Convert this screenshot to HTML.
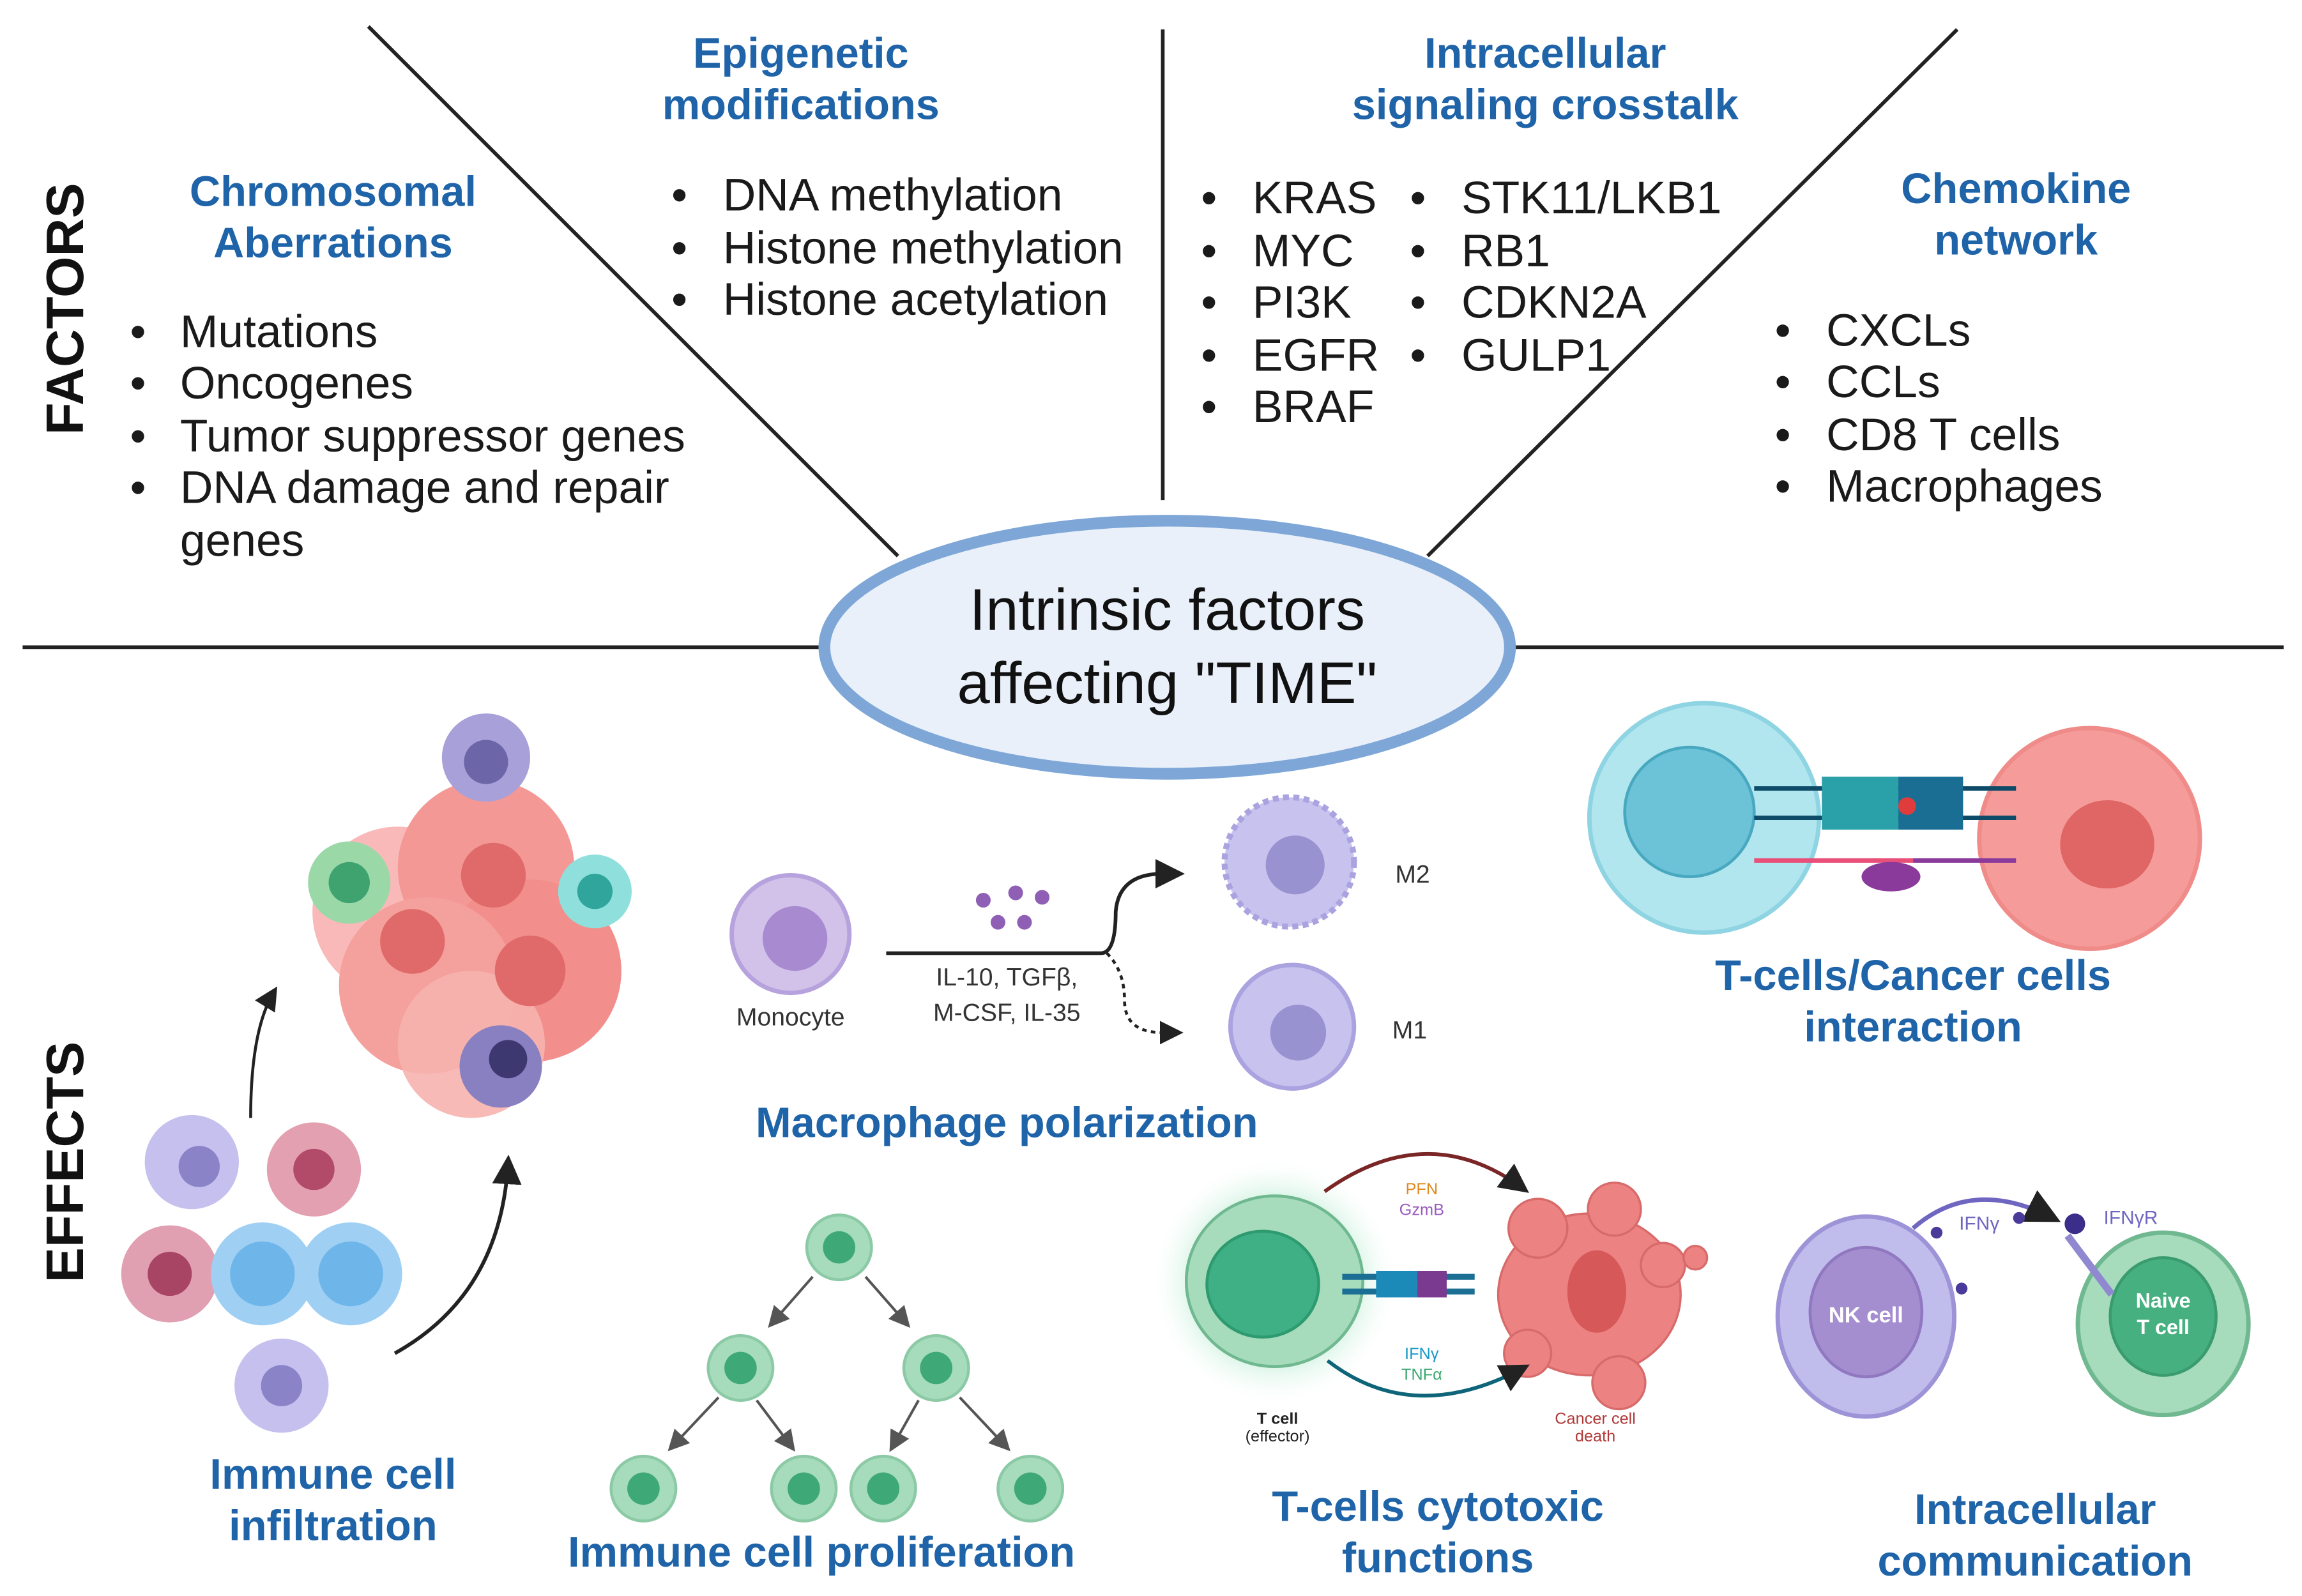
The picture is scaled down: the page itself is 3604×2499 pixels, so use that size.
<!DOCTYPE html>
<html><head><meta charset="utf-8"><style>
html,body{margin:0;padding:0;background:#fff}
svg{display:block}
text{font-family:"Liberation Sans",sans-serif}
.h{fill:#1f64a8;font-weight:bold;font-size:29px;text-anchor:middle}
.b{fill:#1a1a1a;font-size:31px}
.s{font-size:17px;fill:#333}
</style></head><body>
<svg width="3604" height="2499" viewBox="0 0 1564 1085" xmlns="http://www.w3.org/2000/svg">
<defs>
<marker id="ah" markerWidth="8" markerHeight="8" refX="6" refY="4" orient="auto"><path d="M0,0 L8,4 L0,8z" fill="#222"/></marker>
<marker id="ag" markerWidth="8" markerHeight="8" refX="6" refY="4" orient="auto"><path d="M0,0 L8,4 L0,8z" fill="#555"/></marker>
<radialGradient id="glow"><stop offset="0.55" stop-color="#b9ecd2"/><stop offset="1" stop-color="#fff" stop-opacity="0"/></radialGradient>
</defs>
<g stroke="#222" stroke-width="2.5">
<line x1="250" y1="18" x2="610" y2="378"/>
<line x1="790" y1="20" x2="790" y2="340"/>
<line x1="1330" y1="20" x2="970" y2="378"/>
<line x1="15" y1="440" x2="558" y2="440"/>
<line x1="1025" y1="440" x2="1552" y2="440"/>
</g>
<ellipse cx="793" cy="440" rx="233" ry="86" fill="#e9f0fa" stroke="#7ea7d8" stroke-width="8"/>
<text x="793" y="428" font-size="40" text-anchor="middle" fill="#111">Intrinsic factors</text>
<text x="793" y="478" font-size="40" text-anchor="middle" fill="#111">affecting "TIME"</text>

<text transform="translate(56,210) rotate(-90)" font-size="36" font-weight="bold" text-anchor="middle" fill="#111">FACTORS</text>
<text transform="translate(56,790) rotate(-90)" font-size="36" font-weight="bold" text-anchor="middle" fill="#111">EFFECTS</text>

<text class="h" x="226" y="140">Chromosomal</text>
<text class="h" x="226" y="175">Aberrations</text>
<g class="b">
<text x="88" y="236">•</text><text x="122" y="236">Mutations</text>
<text x="88" y="271">•</text><text x="122" y="271">Oncogenes</text>
<text x="88" y="307">•</text><text x="122" y="307">Tumor suppressor genes</text>
<text x="88" y="342">•</text><text x="122" y="342">DNA damage and repair</text>
<text x="122" y="378">genes</text>
</g>
<text class="h" x="544" y="46">Epigenetic</text>
<text class="h" x="544" y="81">modifications</text>
<g class="b">
<text x="456" y="143">•</text><text x="491" y="143">DNA methylation</text>
<text x="456" y="179">•</text><text x="491" y="179">Histone methylation</text>
<text x="456" y="214">•</text><text x="491" y="214">Histone acetylation</text>
</g>
<text class="h" x="1050" y="46">Intracellular</text>
<text class="h" x="1050" y="81">signaling crosstalk</text>
<g class="b">
<text x="816" y="145">•</text><text x="851" y="145">KRAS</text>
<text x="816" y="181">•</text><text x="851" y="181">MYC</text>
<text x="816" y="216">•</text><text x="851" y="216">PI3K</text>
<text x="816" y="252">•</text><text x="851" y="252">EGFR</text>
<text x="816" y="287">•</text><text x="851" y="287">BRAF</text>
<text x="958" y="145">•</text><text x="993" y="145">STK11/LKB1</text>
<text x="958" y="181">•</text><text x="993" y="181">RB1</text>
<text x="958" y="216">•</text><text x="993" y="216">CDKN2A</text>
<text x="958" y="252">•</text><text x="993" y="252">GULP1</text>
</g>
<text class="h" x="1370" y="138">Chemokine</text>
<text class="h" x="1370" y="173">network</text>
<g class="b">
<text x="1206" y="235">•</text><text x="1241" y="235">CXCLs</text>
<text x="1206" y="270">•</text><text x="1241" y="270">CCLs</text>
<text x="1206" y="306">•</text><text x="1241" y="306">CD8 T cells</text>
<text x="1206" y="341">•</text><text x="1241" y="341">Macrophages</text>
</g>

<g>
<circle cx="270" cy="620" r="58" fill="#f7a8a6" opacity="0.8"/>
<circle cx="330" cy="590" r="60" fill="#f39895"/>
<circle cx="360" cy="660" r="62" fill="#f28e8b"/>
<circle cx="290" cy="670" r="60" fill="#f4a09d"/>
<circle cx="320" cy="710" r="50" fill="#f7b2af" opacity="0.9"/>
<circle cx="335" cy="595" r="22" fill="#e06a6a"/>
<circle cx="360" cy="660" r="24" fill="#e06a6a"/>
<circle cx="280" cy="640" r="22" fill="#e06a6a"/>
<circle cx="330" cy="515" r="30" fill="#a8a0d8"/><circle cx="330" cy="518" r="15" fill="#6c65a8"/>
<circle cx="340" cy="725" r="28" fill="#8880c0"/><circle cx="345" cy="720" r="13" fill="#3e3870"/>
<circle cx="237" cy="600" r="28" fill="#9ad8a8"/><circle cx="237" cy="600" r="14" fill="#3fa370"/>
<circle cx="404" cy="606" r="25" fill="#8fe0dc"/><circle cx="404" cy="606" r="12" fill="#2fa59c"/>
<circle cx="130" cy="790" r="32" fill="#c5c0ee"/><circle cx="135" cy="793" r="14" fill="#8a83c8"/>
<circle cx="213" cy="795" r="32" fill="#e2a0b0"/><circle cx="213" cy="795" r="14" fill="#b24a6a"/>
<circle cx="115" cy="866" r="33" fill="#e0a0b2"/><circle cx="115" cy="866" r="15" fill="#a84565"/>
<circle cx="178" cy="866" r="35" fill="#9fd0f4"/><circle cx="178" cy="866" r="22" fill="#6eb5ea"/>
<circle cx="238" cy="866" r="35" fill="#9fd0f4"/><circle cx="238" cy="866" r="22" fill="#6eb5ea"/>
<circle cx="191" cy="942" r="32" fill="#c5c0ee"/><circle cx="191" cy="942" r="14" fill="#8a83c8"/>
<path d="M170,760 Q170,700 186,674" stroke="#222" stroke-width="2" fill="none" marker-end="url(#ah)"/>
<path d="M268,920 Q340,880 345,790" stroke="#222" stroke-width="2.5" fill="none" marker-end="url(#ah)"/>
</g>
<text class="h" x="226" y="1012">Immune cell</text>
<text class="h" x="226" y="1047">infiltration</text>

<circle cx="537" cy="635" r="40" fill="#d2c2ea" stroke="#b6a2dc" stroke-width="3"/>
<circle cx="540" cy="638" r="22" fill="#a88ad0"/>
<text class="s" x="537" y="697" text-anchor="middle">Monocyte</text>
<path d="M602,648 L748,648 Q758,648 758,620 Q760,594 790,594 L800,594" stroke="#222" stroke-width="2.5" fill="none" marker-end="url(#ah)"/>
<path d="M752,648 Q764,660 764,680 Q764,702 790,702 L800,702" stroke="#222" stroke-width="2" stroke-dasharray="3,3" fill="none" marker-end="url(#ah)"/>
<g fill="#8f5fb5"><circle cx="668" cy="612" r="5"/><circle cx="690" cy="607" r="5"/><circle cx="708" cy="610" r="5"/><circle cx="678" cy="627" r="5"/><circle cx="696" cy="627" r="5"/></g>
<text class="s" x="684" y="670" text-anchor="middle">IL-10, TGFβ,</text>
<text class="s" x="684" y="694" text-anchor="middle">M-CSF, IL-35</text>
<circle cx="876" cy="586" r="44" fill="#c7c2ee" stroke="#aaa3e0" stroke-width="4" stroke-dasharray="4,3"/>
<circle cx="880" cy="588" r="20" fill="#9992d0"/>
<text class="s" x="948" y="600">M2</text>
<circle cx="878" cy="698" r="42" fill="#c7c2ee" stroke="#aaa3e0" stroke-width="3"/>
<circle cx="882" cy="702" r="19" fill="#9992d0"/>
<text class="s" x="946" y="706">M1</text>
<text class="h" x="684" y="773">Macrophage polarization</text>

<circle cx="1158" cy="556" r="78" fill="#b2e6ee" stroke="#8fd4e2" stroke-width="3"/>
<circle cx="1148" cy="552" r="44" fill="#6cc2d6" stroke="#48a8c0" stroke-width="2"/>
<circle cx="1420" cy="570" r="75" fill="#f59c9a" stroke="#ef8b88" stroke-width="3"/>
<ellipse cx="1432" cy="574" rx="32" ry="30" fill="#e06565"/>
<line x1="1192" y1="536" x2="1370" y2="536" stroke="#0e4b68" stroke-width="3"/>
<line x1="1192" y1="556" x2="1370" y2="556" stroke="#0e4b68" stroke-width="3"/>
<rect x="1238" y="528" width="52" height="36" fill="#2aa0a8"/>
<rect x="1290" y="528" width="44" height="36" fill="#1a6e94"/>
<circle cx="1296" cy="548" r="6" fill="#e03c3c"/>
<line x1="1192" y1="585" x2="1300" y2="585" stroke="#e8507a" stroke-width="3"/>
<line x1="1300" y1="585" x2="1370" y2="585" stroke="#8a3a9a" stroke-width="3"/>
<ellipse cx="1285" cy="596" rx="20" ry="10" fill="#8a3a9a"/>
<text class="h" x="1300" y="673">T-cells/Cancer cells</text>
<text class="h" x="1300" y="708">interaction</text>

<g fill="#a6dcbc" stroke="#8ccaa6" stroke-width="2">
<circle cx="570" cy="848" r="22"/><circle cx="503" cy="930" r="22"/><circle cx="636" cy="930" r="22"/>
<circle cx="437" cy="1012" r="22"/><circle cx="546" cy="1012" r="22"/><circle cx="600" cy="1012" r="22"/><circle cx="700" cy="1012" r="22"/>
</g>
<g fill="#3fa877">
<circle cx="570" cy="848" r="11"/><circle cx="503" cy="930" r="11"/><circle cx="636" cy="930" r="11"/>
<circle cx="437" cy="1012" r="11"/><circle cx="546" cy="1012" r="11"/><circle cx="600" cy="1012" r="11"/><circle cx="700" cy="1012" r="11"/>
</g>
<g stroke="#555" stroke-width="1.8" marker-end="url(#ag)">
<line x1="552" y1="868" x2="524" y2="900"/><line x1="588" y1="868" x2="616" y2="900"/>
<line x1="488" y1="950" x2="456" y2="984"/><line x1="514" y1="952" x2="538" y2="984"/>
<line x1="624" y1="952" x2="606" y2="984"/><line x1="652" y1="950" x2="684" y2="984"/>
</g>
<text class="h" x="558" y="1065">Immune cell proliferation</text>

<circle cx="866" cy="871" r="85" fill="url(#glow)"/>
<ellipse cx="866" cy="871" rx="60" ry="58" fill="#a6dcbc" stroke="#6fb890" stroke-width="2"/>
<ellipse cx="858" cy="873" rx="38" ry="36" fill="#3fb085" stroke="#2e9a70" stroke-width="2"/>
<rect x="912" y="866" width="90" height="4" fill="#1b6e94"/><rect x="912" y="876" width="90" height="4" fill="#1b6e94"/>
<rect x="935" y="864" width="28" height="18" fill="#1b8ab8"/><rect x="963" y="864" width="20" height="18" fill="#7a3a90"/>
<g fill="#ec8282" stroke="#d86a6a" stroke-width="1.5">
<ellipse cx="1080" cy="880" rx="62" ry="55"/><circle cx="1045" cy="835" r="20"/><circle cx="1097" cy="822" r="18"/>
<circle cx="1130" cy="860" r="15"/><circle cx="1038" cy="920" r="16"/><circle cx="1100" cy="940" r="18"/><circle cx="1152" cy="855" r="8"/>
</g>
<ellipse cx="1085" cy="878" rx="20" ry="28" fill="#d65858"/>
<path d="M900,810 Q970,760 1035,808" stroke="#7a2626" stroke-width="2.5" fill="none" marker-end="url(#ah)"/>
<path d="M902,925 Q960,970 1035,930" stroke="#0e6478" stroke-width="2.5" fill="none" marker-end="url(#ah)"/>
<text x="966" y="812" font-size="11" fill="#e08a20" text-anchor="middle">PFN</text>
<text x="966" y="826" font-size="11" fill="#9a5ac0" text-anchor="middle">GzmB</text>
<text x="966" y="924" font-size="11" fill="#1a9ac8" text-anchor="middle">IFNγ</text>
<text x="966" y="938" font-size="11" fill="#3aa870" text-anchor="middle">TNFα</text>
<text x="868" y="968" font-size="11" font-weight="bold" fill="#222" text-anchor="middle">T cell</text>
<text x="868" y="980" font-size="11" fill="#222" text-anchor="middle">(effector)</text>
<text x="1084" y="968" font-size="11" fill="#b03a3a" text-anchor="middle">Cancer cell</text>
<text x="1084" y="980" font-size="11" fill="#b03a3a" text-anchor="middle">death</text>
<text class="h" x="977" y="1034">T-cells cytotoxic</text>
<text class="h" x="977" y="1069">functions</text>

<ellipse cx="1268" cy="895" rx="60" ry="68" fill="#c0bcec" stroke="#9d94d8" stroke-width="3"/>
<ellipse cx="1268" cy="892" rx="38" ry="44" fill="#a58ed0" stroke="#8f78c0" stroke-width="2"/>
<text x="1268" y="899" font-size="15" font-weight="bold" fill="#fff" text-anchor="middle">NK cell</text>
<ellipse cx="1470" cy="900" rx="58" ry="62" fill="#a6dcbc" stroke="#6fb890" stroke-width="3"/>
<ellipse cx="1470" cy="895" rx="36" ry="40" fill="#46b080" stroke="#3a9a70" stroke-width="2"/>
<text x="1470" y="889" font-size="14" font-weight="bold" fill="#fff" text-anchor="middle">Naive</text>
<text x="1470" y="907" font-size="14" font-weight="bold" fill="#fff" text-anchor="middle">T cell</text>
<path d="M1300,835 Q1340,800 1395,828" stroke="#6e66c0" stroke-width="3" fill="none" marker-end="url(#ah)"/>
<line x1="1405" y1="840" x2="1435" y2="880" stroke="#9088d0" stroke-width="5"/>
<circle cx="1410" cy="832" r="7" fill="#3a2e8a"/>
<g fill="#4a3a9a"><circle cx="1316" cy="838" r="4"/><circle cx="1372" cy="828" r="4"/><circle cx="1333" cy="876" r="4"/></g>
<text x="1345" y="836" font-size="13" fill="#6e66c0" text-anchor="middle">IFNγ</text>
<text x="1448" y="832" font-size="13" fill="#6e66c0" text-anchor="middle">IFNγR</text>
<text class="h" x="1383" y="1036">Intracellular</text>
<text class="h" x="1383" y="1071">communication</text>
</svg>
</body></html>
